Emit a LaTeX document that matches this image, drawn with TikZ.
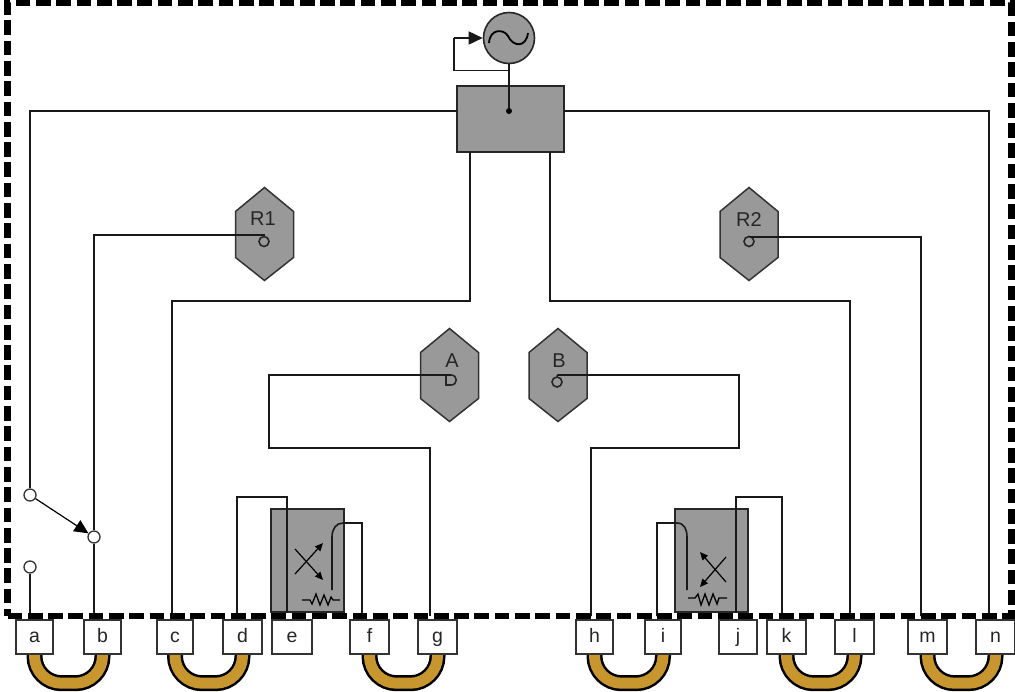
\documentclass[tikz,border=0pt]{standalone}
\usepackage{fontspec}
\setmainfont{Liberation Sans}
\usetikzlibrary{arrows.meta,calc}
\definecolor{unitgray}{HTML}{999999}
\definecolor{loopgold}{HTML}{C8962E}
\tikzset{
  x=1pt,y=-1pt,
  wire/.style={draw=black!90,line width=1.6pt,line join=miter},
  thin wire/.style={draw=black,line width=1.2pt},
  unit/.style={draw=black!85,fill=unitgray,line width=1.8pt,inner sep=0pt,rectangle},
  term/.style={draw=black!80,fill=white,line width=1.4pt,rectangle,inner sep=0pt,minimum height=34pt,
     text height=10pt,text depth=0pt,font=\fontsize{19.5}{21}\selectfont,text=black!85},
  hexshape/.style={draw=black!80,fill=unitgray,line width=1.5pt},
  hexlabel/.style={inner sep=0pt,text height=14pt,text depth=0pt,font=\fontsize{20}{22}\selectfont,text=black!85},
  hexport/.style={circle,draw=black!85,line width=1.6pt,fill=unitgray,inner sep=0pt,minimum size=10pt},
  swport/.style={circle,draw=black!80,fill=white,line width=1.3pt,inner sep=0pt,minimum size=12pt},
  jumper/.style={draw=black,double=loopgold,line width=2.5pt,double distance=11pt,rounded corners=27pt},
  bigtip/.style={-{Triangle[length=14pt,width=13pt]}},
  smalltip/.style={-{Triangle[length=8pt,width=7pt]}},
  border/.style={draw=black,line width=6.2pt,dash pattern=on 14.7pt off 5.6pt},
}
\newcommand{\hexa}[2]{%
  \draw[hexshape] (#1,#2) -- (#1+29,#2+24) -- (#1+29,#2+70) -- (#1,#2+93) -- (#1-29,#2+70) -- (#1-29,#2+24) -- cycle;}
\newcommand{\uloop}[2]{\draw[jumper] (#1.south) -- ($(#1.south)+(0,29)$) -- ($(#2.south)+(0,29)$) -- (#2.south);}
\begin{document}
\begin{tikzpicture}
\path[use as bounding box,fill=white] (0,0) rectangle (1015,691);

% jumpers run behind the terminals; anchor coordinates first
\foreach \n/\x in {a/34.5,b/102.5,c/175,d/242.5,f/369.5,g/437.5,h/594.5,i/663,k/786.5,l/854.5,m/927.5,n/995.5}
  \node[inner sep=0pt,minimum size=0pt,minimum height=34pt,minimum width=0pt] (j\n) at (\x,637) {};
\uloop{ja}{jb}
\uloop{jc}{jd}
\uloop{jf}{jg}
\uloop{jh}{ji}
\uloop{jk}{jl}
\uloop{jm}{jn}
\path
 node[term,minimum width=37pt] (ta) at (34.5,637) {a}
 node[term,minimum width=37pt] (tb) at (102.5,637) {b}
 node[term,minimum width=36pt] (tc) at (175,637) {c}
 node[term,minimum width=39pt] (td) at (242.5,637) {d}
 node[term,minimum width=40pt] (te) at (292,637) {e}
 node[term,minimum width=39pt] (tf) at (369.5,637) {f}
 node[term,minimum width=39pt] (tg) at (437.5,637) {g}
 node[term,minimum width=37pt] (th) at (594.5,637) {h}
 node[term,minimum width=36pt] (ti) at (663,637) {i}
 node[term,minimum width=38pt] (tj) at (738,637) {j}
 node[term,minimum width=39pt] (tk) at (786.5,637) {k}
 node[term,minimum width=39pt] (tl) at (854.5,637) {l}
 node[term,minimum width=39pt] (tm) at (927.5,637) {m}
 node[term,minimum width=39pt] (tn) at (995.5,637) {n};

% units
\node[unit,minimum width=107pt,minimum height=66pt] (main) at (510.5,119) {};
\node[unit,minimum width=73pt,minimum height=103pt] (cpl) at (307.5,560.5) {};
\node[unit,minimum width=73pt,minimum height=103pt] (cpr) at (711.5,560.5) {};
\node[circle,draw=black!85,fill=unitgray,line width=1.6pt,inner sep=0pt,minimum size=51pt] (osc) at (509,38) {};
\node[circle,fill=black,inner sep=0pt,minimum size=6pt] (dot) at (509,111) {};

% oscillator
\coordinate (oj) at (509,70.5);
\coordinate (ol) at (454,38);
\draw[wire] (osc.south) -- (dot);
\draw[wire] (oj) -- (454,70.5) -- (ol);
\draw[wire,bigtip] (ol) -- (osc.west);
\draw[black,line width=1.8pt] (489,43) .. controls (490,28) and (504,29) .. (508,36) .. controls (513,47) and (526,48) .. (528,33);

% receivers
\hexa{264.5}{187.5}
\hexa{749}{187.5}
\hexa{449.5}{328.5}
\hexa{558}{328.5}
\node[hexlabel] (r1) at (263,218) {R1};
\node[hexlabel] (r2) at (749,219) {R2};
\node[hexlabel] (la) at (452,360) {A};
\node[hexlabel] (lb) at (559,360) {B};
\node[hexport] (r1p) at (264,241.5) {};
\node[hexport] (r2p) at (749,241.5) {};
\node[hexport] (bp) at (557,382) {};
\coordinate (ap) at (451,375);
\draw[draw=black!85,line width=1.6pt] (446,375) -- (446,385) -- (451,385) .. controls (458,385) and (458,375) .. (451,375) -- cycle;

% switch
\node[swport] (sw1) at (30,495) {};
\node[swport] (sw2) at (30,567) {};
\node[swport] (swb) at (94,537) {};
\draw[thin wire,bigtip] (sw1) -- (swb);

% port coordinates at the border
\foreach \n/\x in {a/30,b/94,c/172,d/237,f/362,g/430,h/591,i/657,k/782,l/850,m/921,n/989}
  \coordinate (p\n) at (\x,616);
\coordinate (ml) at (457,111);
\coordinate (mr) at (564,111);
\coordinate (ms) at (470,152);
\coordinate (mt) at (550,152);

% wires
\draw[wire] (ml) -- (30,111) -- (sw1);
\draw[wire] (sw2) -- (pa);
\draw[wire] (swb) -- (pb);
\draw[wire] (mr) -- (989,111) -- (pn);
\draw[wire] (ms) -- (470,301) -- (172,301) -- (pc);
\draw[wire] (mt) -- (550,301) -- (850,301) -- (pl);
\draw[wire] (r1p.north) -- (264,235) -- (94,235) -- (swb);
\draw[wire] (r2p.north east) -- (752,237) -- (921,237) -- (pm);
\draw[wire] (ap) -- (269,375) -- (269,448) -- (430,448) -- (pg);
\draw[wire] (bp.north) -- (558,375) -- (739,375) -- (739,448) -- (591,448) -- (ph);
% left coupler
\draw[wire] (pd) -- (237,497) -- (287,497) -- (287,613);
\draw[wire] (pf) -- (362,523) -- (343,523) .. controls (336,523) and (332,529) .. (332,537) -- (332,590);
\draw[thin wire,smalltip] (295,549) -- (323,580);
\draw[thin wire,smalltip] (295,574) -- (323,543);
\draw[black,line width=1.3pt] (302,600) -- (310,600) -- (312,604) -- (316,594) -- (320,605) -- (324,595) -- (328,605) -- (331,597) -- (333,600) -- (340,600);
% right coupler
\draw[wire] (pk) -- (782,497) -- (736,497) -- (736,613);
\draw[wire] (pi) -- (657,523) -- (677,523) .. controls (684,523) and (687,529) .. (687,537) -- (687,590);
\draw[thin wire,smalltip] (726,557) -- (700,587);
\draw[thin wire,smalltip] (726,582) -- (700,552);
\draw[black,line width=1.3pt] (688,598) -- (695,598) -- (698,594) -- (701,605) -- (705,594) -- (709,605) -- (713,594) -- (717,604) -- (719,598) -- (727,598);

% enclosure
\draw[border] (7.5,615.7) -- (1011.5,615.7) -- (1011.5,2.5) -- (7.5,2.5) -- cycle;
\end{tikzpicture}
\end{document}
